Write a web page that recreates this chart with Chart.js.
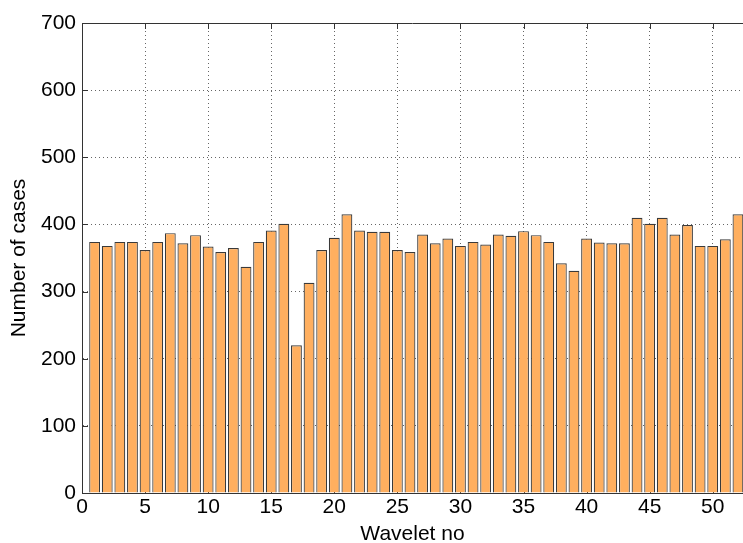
<!DOCTYPE html>
<html>
<head>
<meta charset="utf-8">
<script src="https://cdn.jsdelivr.net/npm/chart.js@4.4.1/dist/chart.umd.min.js"></script>
<style>
  html, body { margin: 0; padding: 0; background: #ffffff; }
  #wrap { width: 743px; height: 543px; }
</style>
</head>
<body>
<div id="wrap"><canvas id="c" width="743" height="543"></canvas></div>
<script>
// Data
const waveletNo = [1,2,3,4,5,6,7,8,9,10,11,12,13,14,15,16,17,18,19,20,21,22,23,24,25,26,
                   27,28,29,30,31,32,33,34,35,36,37,38,39,40,41,42,43,44,45,46,47,48,49,50,51,52];
const numberOfCases = [374,368,374,374,362,374,387,372,384,367,359,365,337,374,391,401,220,313,362,380,415,391,389,389,362,359,
                       385,372,379,368,374,370,385,383,390,384,374,342,331,379,373,372,372,410,401,410,385,399,368,368,378,415];
const xTickLabels = [0,5,10,15,20,25,30,35,40,45,50];
const yTickLabels = [0,100,200,300,400,500,600,700];

const FONT = "'Liberation Sans', Arial, sans-serif";

const innerTicks = {
  id: 'innerTicks',
  beforeDatasetsDraw(chart) {
    const ctx = chart.ctx, a = chart.chartArea;
    const xs = chart.scales.x, ys = chart.scales.y;
    const L = 6;
    ctx.save();
    ctx.strokeStyle = '#333333';
    ctx.lineWidth = 1;
    ctx.beginPath();
    xs.ticks.forEach(t => {
      const px = Math.round(xs.getPixelForValue(t.value)) + 0.5;
      ctx.moveTo(px, a.top); ctx.lineTo(px, a.top + L);
      ctx.moveTo(px, a.bottom); ctx.lineTo(px, a.bottom - L);
    });
    ys.ticks.forEach(t => {
      const py = Math.round(ys.getPixelForValue(t.value)) + 0.5;
      ctx.moveTo(a.left, py); ctx.lineTo(a.left + L, py);
    });
    ctx.stroke();
    ctx.beginPath();
    const ty = Math.round(a.top) + 0.5;
    ctx.moveTo(a.left, ty); ctx.lineTo(a.right, ty);
    ctx.stroke();
    ctx.restore();
  }
};

new Chart(document.getElementById('c'), {
  type: 'bar',
  data: {
    datasets: [{
      data: waveletNo.map((w, i) => ({ x: w, y: numberOfCases[i] })),
      backgroundColor: '#FFAF5F',
      borderColor: '#3a3a3a',
      borderWidth: 1.2,
      barPercentage: 0.86,
      categoryPercentage: 1.0
    }]
  },
  options: {
    responsive: false,
    animation: false,
    devicePixelRatio: 1,
    layout: { padding: { top: 23, right: 0, left: 0, bottom: 0 } },
    plugins: { legend: { display: false }, tooltip: { enabled: false } },
    scales: {
      x: {
        type: 'linear',
        offset: false,
        min: 0,
        max: 52.4,
        afterBuildTicks(s) { s.ticks = xTickLabels.map(v => ({ value: v })); },
        afterFit(s) { s.height = 50; },
        ticks: { includeBounds: false, autoSkip: false, maxRotation: 0, padding: 2, color: '#000', font: { family: FONT, size: 21 } },
        grid: { color: '#666666', lineWidth: 1, drawTicks: false, offset: false },
        border: { display: true, color: '#333333', dash: [1, 3], width: 1 },
        title: { display: true, text: 'Wavelet no', color: '#000', font: { family: FONT, size: 21, lineHeight: 0.8 }, padding: { top: 0, bottom: 0 } }
      },
      y: {
        min: 0,
        max: 700,
        afterBuildTicks(s) { s.ticks = yTickLabels.map(v => ({ value: v })); },
        afterFit(s) { s.width = 82; },
        ticks: { padding: 6, color: '#000', font: { family: FONT, size: 21 } },
        grid: { color: '#666666', lineWidth: 1, drawTicks: false },
        border: { display: true, color: '#333333', width: 1, dash: [1, 3] },
        title: { display: true, text: 'Number of cases', color: '#000', font: { family: FONT, size: 21, lineHeight: 1 }, padding: { top: 9, bottom: 0 } }
      }
    }
  },
  plugins: [innerTicks]
});
</script>
</body>
</html>
